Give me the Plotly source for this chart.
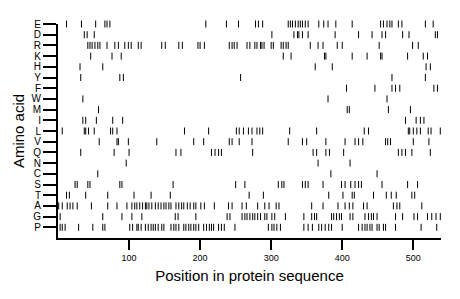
import plotly.graph_objects as go

# Amino acids, top to bottom as shown
amino_acids = ["E", "D", "R", "K", "H", "Y", "F", "W", "M", "I",
               "L", "V", "Q", "N", "C", "S", "T", "A", "G", "P"]

pos_E = [12, 33, 53, 66, 69, 73, 208, 237, 254, 278, 282, 288, 324, 327, 330, 334, 338, 341, 344, 348,
         352, 367, 374, 380, 391, 414, 454, 458, 463, 467, 470, 479, 484, 517, 528]
pos_D = [37, 41, 51, 301, 332, 337, 339, 344, 352, 390, 423, 442, 456, 461, 485, 494, 531, 534]
pos_R = [42, 45, 48, 52, 56, 59, 69, 80, 85, 94, 99, 103, 113, 117, 146, 151, 170, 175, 197, 200,
         206, 241, 245, 248, 252, 266, 270, 277, 280, 285, 287, 290, 300, 303, 314, 317, 321, 324,
         355, 366, 373, 393, 400, 452, 499, 507]
pos_K = [46, 76, 89, 317, 328, 375, 377, 414, 435, 454, 456, 492, 514, 520]
pos_H = [31, 63, 362, 386, 518, 524]
pos_Y = [32, 87, 92, 257, 470, 517]
pos_F = [406, 446, 470, 475, 481, 529, 534]
pos_W = [35, 380, 463]
pos_M = [57, 407, 410, 465, 496]
pos_I = [35, 39, 54, 77, 91, 489, 504, 510, 515]
pos_L = [6, 37, 39, 43, 51, 74, 77, 83, 178, 212, 251, 255, 261, 268, 273, 280, 284, 288, 326, 364,
         431, 437, 493, 495, 500, 505, 510, 521, 525, 538]
pos_V = [58, 83, 85, 99, 139, 191, 205, 241, 245, 255, 273, 324, 344, 350, 377, 404, 418, 423, 429,
         461, 464, 468, 500, 522]
pos_Q = [32, 79, 100, 166, 173, 216, 221, 226, 230, 274, 359, 364, 377, 382, 402, 479, 484, 489,
         498, 524]
pos_N = [96, 366, 411]
pos_C = [56, 384, 449]
pos_S = [24, 27, 42, 45, 87, 90, 162, 250, 263, 310, 315, 318, 344, 348, 352, 373, 399, 404, 412,
         418, 423, 427, 456, 492, 506]
pos_T = [12, 16, 39, 70, 107, 131, 158, 269, 289, 381, 401, 414, 417, 444, 462, 469, 476, 498, 502]
pos_A = [1, 6, 13, 17, 21, 27, 47, 70, 83, 97, 104, 108, 111, 115, 119, 123, 125, 128, 132, 137,
         141, 145, 149, 152, 156, 159, 166, 170, 174, 177, 182, 186, 191, 194, 201, 206, 220, 240,
         245, 259, 265, 281, 291, 297, 307, 311, 357, 373, 394, 404, 410, 415, 430, 435, 472, 477,
         481, 512]
pos_G = [3, 63, 90, 104, 118, 165, 169, 194, 238, 242, 259, 263, 266, 270, 274, 277, 281, 285, 291,
         294, 301, 305, 320, 346, 357, 361, 364, 385, 388, 392, 396, 399, 411, 415, 432, 437, 441,
         444, 449, 475, 485, 501, 506, 520, 526, 532, 538]
pos_P = [3, 6, 10, 29, 49, 63, 66, 101, 105, 111, 113, 117, 123, 127, 131, 134, 137, 141, 146, 149,
         159, 163, 166, 170, 177, 180, 184, 187, 191, 194, 198, 205, 209, 213, 216, 219, 226, 230,
         234, 249, 296, 301, 304, 308, 313, 346, 352, 358, 367, 371, 376, 381, 385, 400, 423, 428,
         432, 435, 439, 442, 449, 452, 458, 461, 475, 511, 533]

positions = {
    "E": pos_E, "D": pos_D, "R": pos_R, "K": pos_K, "H": pos_H, "Y": pos_Y, "F": pos_F,
    "W": pos_W, "M": pos_M, "I": pos_I, "L": pos_L, "V": pos_V, "Q": pos_Q, "N": pos_N,
    "C": pos_C, "S": pos_S, "T": pos_T, "A": pos_A, "G": pos_G, "P": pos_P,
}

x_ticks = [100, 200, 300, 400, 500]
seq_length = 539

n = len(amino_acids)
xs, ys = [], []
for i, aa in enumerate(amino_acids):
    row = n - 1 - i
    for p in positions[aa]:
        xs.append(p)
        ys.append(row)

fig = go.Figure()
fig.add_trace(go.Scatter(
    x=xs, y=ys, mode="markers",
    marker=dict(symbol="line-ns-open", size=5, color="black",
                line=dict(width=1, color="black")),
    hoverinfo="skip", cliponaxis=False, showlegend=False,
))

font_family = "Liberation Sans, Arial, sans-serif"
fig.update_layout(
    width=460, height=299,
    margin=dict(l=58, r=19, t=24, b=61),
    plot_bgcolor="white", paper_bgcolor="white",
    font=dict(family=font_family, color="black"),
    xaxis=dict(
        range=[0, seq_length], tickvals=x_ticks, ticktext=[str(v) for v in x_ticks],
        showgrid=False, zeroline=False, showline=True, linewidth=2, linecolor="black",
        ticks="outside", ticklen=10, tickwidth=1.5, tickcolor="black",
        tickfont=dict(size=9, color="black"), automargin=False,
        title=dict(text="Position in protein sequence", font=dict(size=15, color="black"),
                   standoff=9),
    ),
    yaxis=dict(
        range=[-1, n - 1], tickvals=list(range(n)),
        ticktext=list(reversed(amino_acids)),
        showgrid=False, zeroline=False, showline=True, linewidth=2, linecolor="black",
        ticks="outside", ticklen=13, tickwidth=1.5, tickcolor="black",
        tickfont=dict(size=10, color="black"), automargin=False,
        title=dict(text="Amino acid", font=dict(size=15, color="black"), standoff=3),
    ),
)

fig.write_html("out.html", config={"displayModeBar": False},
               post_script="document.body.style.margin='0';document.body.style.padding='0';")
